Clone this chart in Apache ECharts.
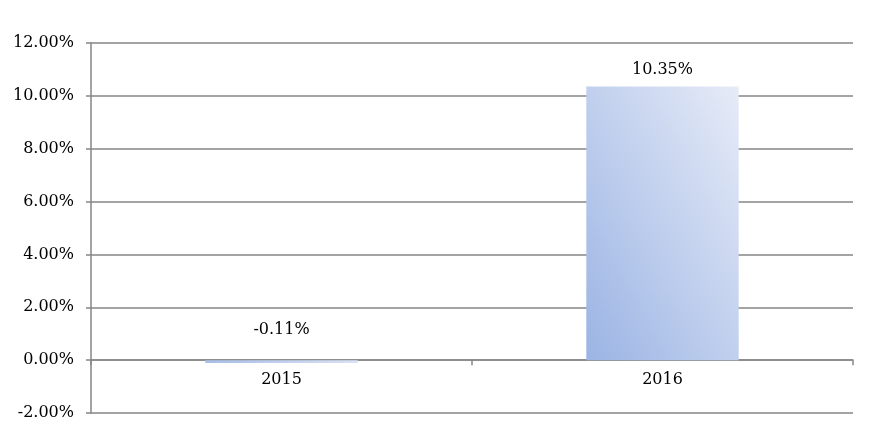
<!DOCTYPE html>
<html>
<head>
<meta charset="utf-8">
<script src="https://cdn.jsdelivr.net/npm/echarts@6/dist/echarts.min.js"></script>
<style>
html,body{margin:0;padding:0;background:#fff;}
#c{width:874px;height:441px;}
</style>
</head>
<body>
<div id="c"></div>
<script>
const categories = ['2015', '2016'];
const growthValues = [-0.11, 10.35];
const yTicks = { min: -2, max: 12, interval: 2 };

const FONT = '"DejaVu Serif", "Liberation Serif", serif';
const chart = echarts.init(document.getElementById('c'), null, { renderer: 'canvas' });

const barColor = new echarts.graphic.LinearGradient(-0.263, 0.737, 1.263, 0.263, [
  { offset: 0, color: '#9bb4e4' },
  { offset: 1, color: '#e6ebf7' }
]);

const gridTop = 43, gridBottom = 28, chartH = 441;
const plotH = chartH - gridTop - gridBottom;
const zeroOffset = -plotH * (0 - yTicks.min) / (yTicks.max - yTicks.min);

chart.setOption({
  animation: false,
  backgroundColor: '#ffffff',
  grid: { left: 91, right: 21, top: gridTop, bottom: gridBottom, containLabel: false },
  xAxis: {
    type: 'category',
    data: categories,
    position: 'bottom',
    offset: zeroOffset,
    axisLine: { onZero: false, lineStyle: { color: '#868686', width: 1.5 } },
    axisTick: { show: true, length: 5, lineStyle: { color: '#868686', width: 1.5 } },
    axisLabel: { color: '#000', fontFamily: FONT, fontSize: 16, margin: 12 }
  },
  yAxis: {
    type: 'value',
    min: yTicks.min,
    max: yTicks.max,
    interval: yTicks.interval,
    axisLine: { show: true, lineStyle: { color: '#868686', width: 1.5 } },
    axisTick: { show: true, length: 5, lineStyle: { color: '#868686', width: 1.5 } },
    splitLine: { show: true, lineStyle: { color: '#868686', width: 1.5 } },
    axisLabel: {
      color: '#000', fontFamily: FONT, fontSize: 16, margin: 17,
      formatter: v => v.toFixed(2) + '%'
    }
  },
  series: [{
    type: 'bar',
    barWidth: '40%',
    data: growthValues.map((v, i) => ({
      value: v,
      label: { distance: v < 0 ? 22 : 9 }
    })),
    itemStyle: { color: barColor },
    label: {
      show: true,
      position: 'top',
      color: '#000',
      fontFamily: FONT,
      fontSize: 16,
      formatter: p => p.value.toFixed(2) + '%'
    }
  }]
});
</script>
</body>
</html>
